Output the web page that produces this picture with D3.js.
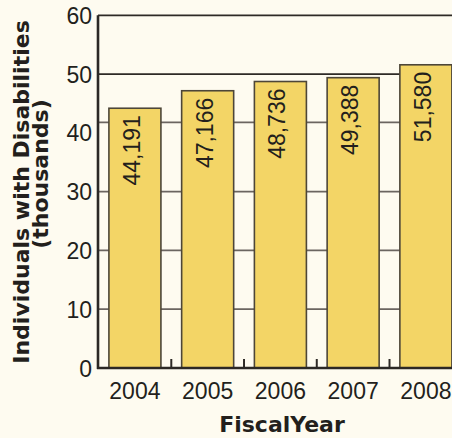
<!DOCTYPE html>
<html>
<head>
<meta charset="utf-8">
<script src="https://cdn.jsdelivr.net/npm/d3@7"></script>
<style>
  html, body { margin: 0; padding: 0; background: #fefbf0; }
  svg { display: block; }
</style>
</head>
<body>
<div id="chart"></div>
<script>
// data
const years = ["2004", "2005", "2006", "2007", "2008"];
const individuals = [44.191, 47.166, 48.736, 49.388, 51.580];
const valueLabels = ["44,191", "47,166", "48,736", "49,388", "51,580"];
const yTicks = [0, 10, 20, 30, 40, 50, 60];
// the original draws its "40" rule a little high, kept as seen
const gridLevels = [10, 20, 30, 41.8, 50, 60];

let width = 452, height = 438;
let axisX = 98, baseY = 368, topY = 15.3;

let svg = d3.select("#chart").append("svg")
  .attr("width", width)
  .attr("height", height);

svg.append("rect").attr("width", width).attr("height", height).attr("fill", "#fefbf0");

let xScale = d3.scaleBand().domain(years).range([axisX, 462.8])
  .paddingInner(0.285).paddingOuter(0.15);
let yScale = d3.scaleLinear().domain([0, 60]).range([baseY, topY]);

// grid rules
svg.append("g").selectAll("line")
  .data(gridLevels)
  .enter().append("line")
  .attr("x1", axisX).attr("x2", width)
  .attr("y1", d => yScale(d)).attr("y2", d => yScale(d))
  .attr("stroke", d => d >= 50 ? "#2e2a26" : "#6b6560")
  .attr("stroke-width", 1.8);

// bars
svg.append("g").selectAll("rect")
  .data(individuals)
  .enter().append("rect")
  .attr("x", (d, i) => xScale(years[i]))
  .attr("y", d => yScale(d))
  .attr("width", xScale.bandwidth())
  .attr("height", d => baseY - yScale(d))
  .attr("fill", "#f3d566")
  .attr("stroke", "#4d4638")
  .attr("stroke-width", 1.6);

// value labels inside bars
svg.append("g").selectAll("text")
  .data(individuals)
  .enter().append("text")
  .attr("transform", (d, i) => "translate(" + (xScale(years[i]) + xScale.bandwidth() / 2 + 5) + "," + (yScale(d) + 7) + ") rotate(-90)")
  .attr("text-anchor", "end")
  .attr("font-family", "Liberation Sans, Arial, sans-serif")
  .attr("font-size", 23)
  .attr("fill", "#231f1c")
  .text((d, i) => valueLabels[i]);

// small ticks on the base between bars
let step = xScale.step();
svg.append("g").selectAll("line")
  .data(years.slice(0, -1))
  .enter().append("line")
  .attr("x1", d => xScale(d) + xScale.bandwidth() + (step - xScale.bandwidth()) / 2)
  .attr("x2", d => xScale(d) + xScale.bandwidth() + (step - xScale.bandwidth()) / 2)
  .attr("y1", baseY).attr("y2", baseY - 9)
  .attr("stroke", "#2e2a26")
  .attr("stroke-width", 2);

// axes lines
svg.append("line")
  .attr("x1", axisX).attr("x2", axisX)
  .attr("y1", topY).attr("y2", baseY + 1)
  .attr("stroke", "#2b2825").attr("stroke-width", 2.6);
svg.append("line")
  .attr("x1", axisX - 1).attr("x2", width)
  .attr("y1", baseY).attr("y2", baseY)
  .attr("stroke", "#2b2825").attr("stroke-width", 2.6);

// y tick labels
svg.append("g").selectAll("text")
  .data(yTicks)
  .enter().append("text")
  .attr("x", 92)
  .attr("y", d => yScale(d) + 8.5)
  .attr("text-anchor", "end")
  .attr("font-family", "Liberation Sans, Arial, sans-serif")
  .attr("font-size", 23)
  .attr("fill", "#231f1c")
  .text(d => d);

// x tick labels
svg.append("g").selectAll("text")
  .data(years)
  .enter().append("text")
  .attr("x", d => xScale(d) + xScale.bandwidth() / 2)
  .attr("y", 399)
  .attr("text-anchor", "middle")
  .attr("font-family", "Liberation Sans, Arial, sans-serif")
  .attr("font-size", 23)
  .attr("fill", "#231f1c")
  .text(d => d);

// axis titles
svg.append("text")
  .attr("x", 282).attr("y", 432)
  .attr("text-anchor", "middle")
  .attr("font-family", "DejaVu Sans, sans-serif")
  .attr("font-weight", "bold")
  .attr("font-size", 22)
  .attr("fill", "#231f1c")
  .text("FiscalYear");

svg.append("text")
  .attr("transform", "translate(28.5,192) rotate(-90)")
  .attr("text-anchor", "middle")
  .attr("font-family", "DejaVu Sans, sans-serif")
  .attr("font-weight", "bold")
  .attr("font-size", 22)
  .attr("fill", "#231f1c")
  .text("Individuals with Disabilities");

svg.append("text")
  .attr("transform", "translate(48,174) rotate(-90)")
  .attr("text-anchor", "middle")
  .attr("font-family", "DejaVu Sans, sans-serif")
  .attr("font-weight", "bold")
  .attr("font-size", 22)
  .attr("fill", "#231f1c")
  .text("(thousands)");
</script>
</body>
</html>
